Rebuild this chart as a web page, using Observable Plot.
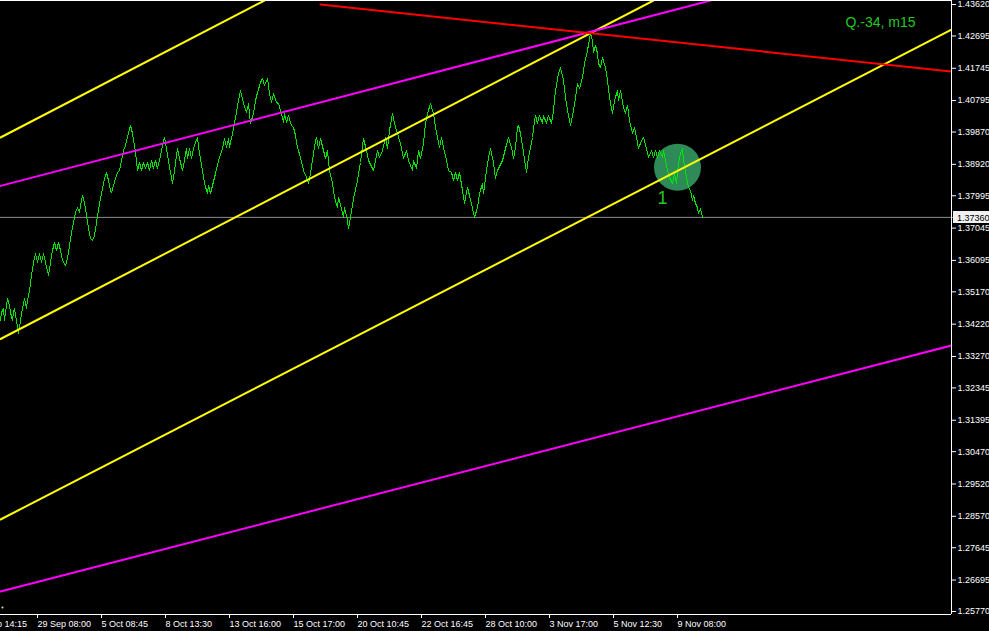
<!DOCTYPE html>
<html>
<head>
<meta charset="utf-8">
<script src="https://cdn.jsdelivr.net/npm/d3@7"></script>
<script src="https://cdn.jsdelivr.net/npm/@observablehq/plot@0.6"></script>
<style>
  html, body { margin: 0; padding: 0; background: #000; }
  #chart { width: 989px; height: 631px; overflow: hidden; }
</style>
</head>
<body>
<div id="chart"></div>
<script>
// ---- data ----
const bars = [0,1,3,4,5,7,9,10,12,13,14,16,18,20,22,24,26,27,29,31,33,35,37,39,41,43,45,48,50,52,54,56,58,60,62,65,67,69,71,73,75,77,79,81,82,84,86,88,90,92,94,96,98,100,102,104,106,108,110,111,113,115,117,119,121,123,125,127,129,130,132,134,136,137,139,141,143,145,147,149,151,153,155,157,159,161,163,164,166,168,170,172,174,176,177,179,182,184,186,187,189,191,193,195,197,199,202,204,207,208,210,212,215,218,222,224,226,228,229,232,235,238,240,243,246,248,250,253,255,257,260,262,264,267,269,271,273,276,278,281,283,284,286,288,291,293,295,297,300,303,306,308,310,313,315,316,318,320,323,325,327,329,332,334,337,338,341,343,344,347,348,350,353,357,360,363,366,368,373,377,379,382,385,387,389,392,394,397,400,403,406,408,412,413,416,418,420,423,425,427,430,433,435,437,439,441,443,446,448,451,453,455,457,459,462,464,467,469,472,474,477,479,482,483,486,488,490,493,495,497,502,505,508,511,513,515,517,518,520,523,526,528,532,534,535,537,539,542,543,546,548,551,553,555,558,560,563,565,567,570,573,575,577,579,582,584,587,590,592,593,595,597,598,600,602,605,607,609,612,614,617,618,620,623,625,627,629,632,634,636,638,641,643,646,648,651,653,655,657,659,662,663,665,667,669,672,674,676,678,680,682,683,686,688,690,692,693,695,697,698,700,702];
const closes = [1.34328,1.34563,1.34681,1.34328,1.34563,1.34975,1.34769,1.34563,1.34328,1.34563,1.34681,1.34328,1.33946,1.34328,1.34681,1.34975,1.34681,1.34916,1.35210,1.35651,1.36033,1.36298,1.36033,1.36298,1.36033,1.36298,1.36033,1.35651,1.36033,1.36386,1.36622,1.36386,1.36622,1.36386,1.36092,1.35945,1.36151,1.36533,1.36916,1.37210,1.37504,1.37651,1.37504,1.37857,1.38004,1.37798,1.37416,1.37033,1.36739,1.36680,1.36827,1.37210,1.37563,1.37915,1.38210,1.38504,1.38680,1.38445,1.38151,1.38092,1.38298,1.38504,1.38680,1.38739,1.39033,1.39327,1.39474,1.39709,1.39974,1.40062,1.39827,1.39474,1.39033,1.38739,1.38974,1.38739,1.38974,1.38798,1.38974,1.38739,1.39033,1.38798,1.39033,1.38798,1.39033,1.39327,1.39621,1.39709,1.39386,1.39033,1.38680,1.38357,1.38739,1.39180,1.39386,1.39092,1.38739,1.39033,1.39386,1.39092,1.39386,1.39092,1.39386,1.39562,1.39709,1.39239,1.38739,1.38357,1.38062,1.38298,1.38062,1.38298,1.38651,1.39033,1.39386,1.39680,1.39415,1.39680,1.39415,1.39827,1.40297,1.40797,1.41091,1.40709,1.40444,1.40709,1.40121,1.40415,1.40797,1.41033,1.41327,1.41444,1.41238,1.41444,1.41003,1.40739,1.41003,1.40739,1.40709,1.40415,1.40150,1.40415,1.40150,1.40356,1.40062,1.40003,1.39768,1.39415,1.39121,1.38739,1.38533,1.38357,1.38651,1.39239,1.39621,1.39709,1.39386,1.39680,1.39327,1.39092,1.39327,1.38739,1.38357,1.37945,1.37651,1.37945,1.37621,1.37357,1.37651,1.37268,1.37033,1.37357,1.37915,1.38445,1.38974,1.39680,1.39327,1.39033,1.38739,1.39327,1.39121,1.39327,1.39709,1.39386,1.39915,1.40415,1.40121,1.39827,1.39533,1.39092,1.39327,1.39033,1.38739,1.39033,1.38798,1.39327,1.39092,1.39533,1.40121,1.40415,1.40709,1.40415,1.40003,1.39709,1.39415,1.39709,1.39415,1.39033,1.38739,1.38680,1.38445,1.38680,1.38445,1.38680,1.38151,1.37768,1.38239,1.38004,1.37621,1.37357,1.37651,1.38062,1.38357,1.38062,1.38739,1.39121,1.39386,1.38974,1.38504,1.38739,1.39033,1.39386,1.39709,1.39415,1.39092,1.39415,1.40003,1.40062,1.39827,1.39268,1.38680,1.39121,1.39709,1.40209,1.40356,1.40121,1.40356,1.40121,1.40356,1.40121,1.40356,1.40121,1.40503,1.41091,1.41591,1.41768,1.41385,1.40886,1.40503,1.40062,1.40503,1.40886,1.41297,1.41150,1.41474,1.41885,1.42268,1.42768,1.42562,1.42209,1.42415,1.42179,1.41885,1.41768,1.42062,1.41768,1.41385,1.40886,1.40415,1.40797,1.41091,1.40797,1.41091,1.40592,1.40415,1.40650,1.40209,1.39827,1.40003,1.39709,1.39386,1.39621,1.39709,1.39386,1.39121,1.39327,1.39121,1.39327,1.39121,1.39327,1.39121,1.39327,1.39033,1.38739,1.38533,1.38357,1.38651,1.38357,1.38945,1.39239,1.39386,1.39033,1.38533,1.38239,1.38151,1.37857,1.38004,1.37768,1.37651,1.37474,1.37621,1.37360];

const lastPrice = 1.37360;

// trendlines: [bar1, price1, bar2, price2]
const trendNames  = ["yellowA", "yellowB", "yellowC", "magentaA", "magentaB", "red"];
const trendBar1   = [0, 0, 0, 0, 0, 320];
const trendPrice1 = [1.39709, 1.33784, 1.28476, 1.38286, 1.26358, 1.43620];
const trendBar2   = [264, 653, 951, 710, 951, 951];
const trendPrice2 = [1.43738, 1.43738, 1.42879, 1.43738, 1.33593, 1.41650];
const trendColors = {yellowA: "#ffff00", yellowB: "#ffff00", yellowC: "#ffff00", magentaA: "#ff00ff", magentaB: "#ff00ff", red: "#ff0000"};

// marker
const markerBar = 677, markerPrice = 1.38836;
const markerLabelBar = 662, markerLabelPrice = 1.37915, markerLabel = "1";
const chartTitle = "Q.-34, m15";
// small object near the lower-left corner
const smallObjBar = 2, smallObjPrice = 1.25890;

// axes
const yTicks = [1.43620, 1.42695, 1.41745, 1.40795, 1.39870, 1.38920, 1.37995, 1.37045, 1.36095, 1.35170, 1.34220, 1.33270, 1.32345, 1.31395, 1.30470, 1.29520, 1.28570, 1.27645, 1.26695, 1.25770];
const xTickBars = [-26, 38, 102, 166, 230, 294, 358, 422, 486, 550, 614, 678];
const xTickLabels = ["24 Sep 14:15", "29 Sep 08:00", "5 Oct 08:45", "8 Oct 13:30", "13 Oct 16:00", "15 Oct 17:00", "20 Oct 10:45", "22 Oct 16:45", "28 Oct 10:00", "3 Nov 17:00", "5 Nov 12:30", "9 Nov 08:00"];

const xDomain = [0, 951];
const yDomain = [1.25682, 1.43738];

// ---- build ----
const series = bars.map((b, i) => ({bar: b, price: closes[i]}));
const trendSegs = [];
trendNames.forEach((n, i) => {
  trendSegs.push({name: n, bar: trendBar1[i], price: trendPrice1[i]});
  trendSegs.push({name: n, bar: trendBar2[i], price: trendPrice2[i]});
});
const tickLabelMap = new Map(xTickBars.map((b, i) => [b, xTickLabels[i]]));
const FONT = "Liberation Sans, Arial, sans-serif";

const chart = Plot.plot({
  width: 989,
  height: 631,
  marginLeft: 0,
  marginRight: 38,
  marginTop: 0,
  marginBottom: 17,
  style: {background: "#000", color: "#fff", fontFamily: FONT, fontSize: "9px"},
  x: {type: "linear", domain: xDomain, axis: null},
  y: {type: "linear", domain: yDomain, axis: null},
  marks: [
    Plot.dot([{bar: markerBar, price: markerPrice}], {x: "bar", y: "price", r: 23.5, fill: "#2e8b57", stroke: "none"}),
    Plot.dot([{bar: smallObjBar, price: smallObjPrice}], {x: "bar", y: "price", r: 1, fill: "#e0e0e0", stroke: "none"}),
    Plot.ruleY([lastPrice], {stroke: "#8c8c8c", strokeWidth: 1}),
    Plot.line(series, {x: "bar", y: "price", stroke: "#00e600", strokeWidth: 1, clip: true, shapeRendering: "crispEdges"}),
    Plot.line(trendSegs, {x: "bar", y: "price", z: "name", stroke: d => trendColors[d.name], strokeWidth: 2, clip: true}),
    Plot.text([markerLabel], {x: () => markerLabelBar, y: () => markerLabelPrice, text: d => d, fill: "#22c822", fontSize: 18, fontFamily: FONT}),
    Plot.text([chartTitle], {frameAnchor: "top-right", dx: -71, dy: 17, text: d => d, fill: "#22c822", fontSize: 14, textAnchor: "middle", fontFamily: FONT}),
    Plot.ruleY([yDomain[1], yDomain[0]], {stroke: "#fff", strokeWidth: 1}),
    Plot.ruleX([xDomain[1]], {stroke: "#fff", strokeWidth: 1}),
    Plot.axisY({anchor: "right", ticks: yTicks, tickFormat: d => d.toFixed(5), tickSize: 4, tickPadding: 2, label: null, stroke: "#fff", fill: "#fff"}),
    Plot.axisX({anchor: "bottom", ticks: xTickBars, tickFormat: d => tickLabelMap.get(d), tickSize: 4, tickPadding: 2, textAnchor: "start", dx: -1, label: null, stroke: "#fff", fill: "#fff"})
  ]
});

document.getElementById("chart").appendChild(chart);

// highlighted last-price label on the price axis
const svg = d3.select(chart);
const yp = chart.scale("y").apply(lastPrice);
const xr = chart.scale("x").apply(xDomain[1]);
svg.append("line").attr("x1", xr + 1).attr("x2", xr + 4).attr("y1", Math.round(yp) + 0.5).attr("y2", Math.round(yp) + 0.5).attr("stroke", "#8c8c8c");
svg.append("rect").attr("x", xr + 2).attr("y", Math.round(yp) - 6).attr("width", 40).attr("height", 12).attr("fill", "#f0f0f0");
svg.append("text").attr("x", xr + 6).attr("y", Math.round(yp) + 0.5).attr("dy", "0.35em").attr("fill", "#000")
  .attr("text-anchor", "start")
  .style("font-family", FONT).style("font-size", "9px").text(lastPrice.toFixed(5));
</script>
</body>
</html>
